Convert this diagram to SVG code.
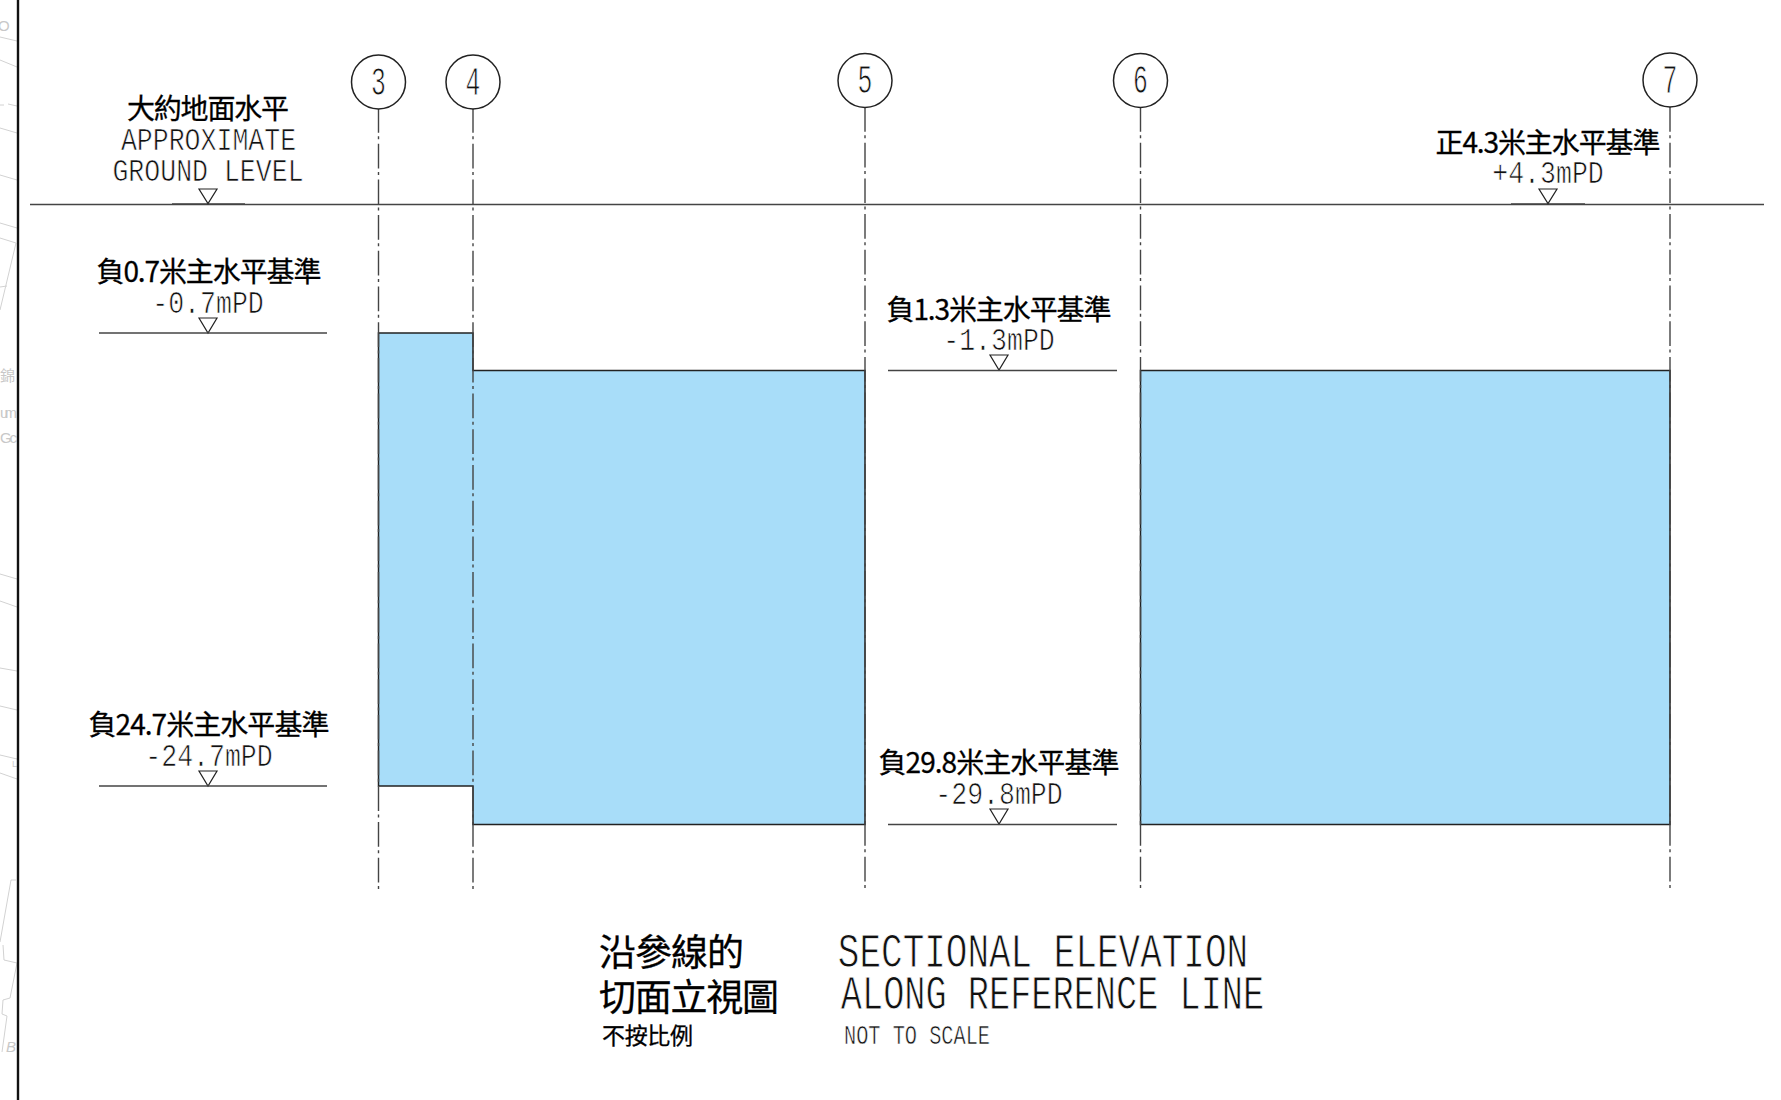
<svg xmlns="http://www.w3.org/2000/svg" width="1781" height="1100" viewBox="0 0 1781 1100">
<style>
.cjk{font-family:"Noto Sans CJK TC","Liberation Sans",sans-serif;fill:#000;stroke:#000;stroke-width:.3;text-anchor:middle}
.cad{font-family:"Liberation Mono",monospace;fill:#111;stroke:#fff;stroke-width:.7;text-anchor:middle;font-size:32px}
.num{font-family:"Liberation Mono",monospace;fill:#111;stroke:#fff;stroke-width:.9;text-anchor:middle;font-size:40px}
.lv{stroke:#444;stroke-width:1.6;fill:none}
.tri{fill:#fff;stroke:#222;stroke-width:1.2}
.cl{stroke:#444;stroke-width:1.4;fill:none;stroke-dasharray:24.7 3.5 3 4.5}
.bub{fill:#fff;stroke:#222;stroke-width:1.5}
.blue{fill:#a8ddf9;stroke:#222;stroke-width:1.5}
.map{stroke:#d2d2d2;stroke-width:1;fill:none}
.mt{font-family:"Liberation Sans",sans-serif;fill:#c8c8c8;font-size:15px}
</style>
<rect width="1781" height="1100" fill="#fff"/>
<g id="background-map">
<path class="map" d="M0 37L17 41M0 60L17 67M0 105L4 105M8 104L17 106M0 128L17 133M0 175L17 180M0 223L17 228M0 238L16 243L0 310M0 287L7 286M0 574L17 579M0 601L17 607M0 668L17 671M0 706L17 710M0 755L17 759M0 773L17 779M16 880L11 880L0 942M3 945L4 960L17 963L10 998L3 1000L2 1014L7 1016L2 1052"/>
<text class="mt" x="-2" y="31">O</text>
<text class="mt" x="0" y="381" style="font-family:'Noto Sans CJK TC',sans-serif">錦</text>
<text class="mt" x="0" y="418" textLength="17">um</text>
<text class="mt" x="0" y="443" textLength="17">Gc</text>
<text class="mt" x="6" y="1052" font-style="italic" font-size="12">B</text>
<text x="12" y="767" style="font-family:'Liberation Sans',sans-serif;fill:#ccc;font-size:9px">L</text>
</g>
<path d="M18 0V1100" stroke="#111" stroke-width="2.4"/>
<g id="sections">
<path class="blue" d="M378.5 333H473V370.5H865V824.5H473V786H378.5Z"/>
<path class="blue" d="M1140.5 370.5H1670V824.5H1140.5Z"/>
</g>
<g id="connectors">
<path class="cl" d="M378.5 108V891"/>
<path class="cl" d="M473 108V891"/>
<path class="cl" d="M865 107V889"/>
<path class="cl" d="M1140.5 107V889"/>
<path class="cl" d="M1670 107V889"/>
<path class="lv" d="M30 204.5H1764"/>
<path class="lv" d="M172 204H245M1511 204H1585"/>
</g>
<g id="grid-3"><circle class="bub" cx="378.5" cy="82" r="27"/><text class="num" transform="translate(378.5 94.5) scale(.62 1)">3</text></g>
<g id="grid-4"><circle class="bub" cx="473" cy="82" r="27"/><text class="num" transform="translate(473 94.5) scale(.62 1)">4</text></g>
<g id="grid-5"><circle class="bub" cx="865" cy="80.5" r="27"/><text class="num" transform="translate(865 93) scale(.62 1)">5</text></g>
<g id="grid-6"><circle class="bub" cx="1140.5" cy="80.5" r="27"/><text class="num" transform="translate(1140.5 93) scale(.62 1)">6</text></g>
<g id="grid-7"><circle class="bub" cx="1670" cy="80" r="27"/><text class="num" transform="translate(1670 92.5) scale(.62 1)">7</text></g>
<g id="level-ground">
<text class="cjk" x="208" y="119" font-size="28" textLength="162">大約地面水平</text>
<text class="cad" transform="translate(208.5 150) scale(.83 1)">APPROXIMATE</text>
<text class="cad" transform="translate(208 181) scale(.83 1)">GROUND LEVEL</text>
<path class="tri" d="M199 189H217L208 203.5Z"/>
</g>
<g id="level-minus-0-7">
<text class="cjk" x="209" y="282" font-size="28" textLength="225">負0.7米主水平基準</text>
<text class="cad" transform="translate(208 313) scale(.83 1)">-0.7mPD</text>
<path class="tri" d="M199 318H217L208 333Z"/>
<path class="lv" d="M99 333H327"/>
</g>
<g id="level-minus-24-7">
<text class="cjk" x="209" y="735" font-size="28" textLength="241">負24.7米主水平基準</text>
<text class="cad" transform="translate(209 766) scale(.83 1)">-24.7mPD</text>
<path class="tri" d="M199 771H217L208 786Z"/>
<path class="lv" d="M99 786H327"/>
</g>
<g id="level-minus-1-3">
<text class="cjk" x="999" y="320" font-size="28" textLength="225">負1.3米主水平基準</text>
<text class="cad" transform="translate(999 350) scale(.83 1)">-1.3mPD</text>
<path class="tri" d="M990 355H1008L999 370Z"/>
<path class="lv" d="M888 370.5H1117"/>
</g>
<g id="level-minus-29-8">
<text class="cjk" x="999" y="773" font-size="28" textLength="241">負29.8米主水平基準</text>
<text class="cad" transform="translate(999 804) scale(.83 1)">-29.8mPD</text>
<path class="tri" d="M990 809H1008L999 824Z"/>
<path class="lv" d="M888 824.5H1117"/>
</g>
<g id="level-plus-4-3">
<text class="cjk" x="1548" y="153" font-size="28" textLength="225">正4.3米主水平基準</text>
<text class="cad" transform="translate(1548 183) scale(.83 1)">+4.3mPD</text>
<path class="tri" d="M1539 189H1557L1548 203.5Z"/>
</g>
<g id="title">
<text class="cjk" x="671.5" y="966" font-size="37" textLength="145">沿參線的</text>
<text class="cjk" x="689" y="1011" font-size="37" textLength="180">切面立視圖</text>
<text class="cjk" x="647.5" y="1044" font-size="23" textLength="91">不按比例</text>
<text class="cad" style="font-size:48px;stroke-width:.9" transform="translate(1043 967) scale(.75 1)">SECTIONAL ELEVATION</text>
<text class="cad" style="font-size:48px;stroke-width:.9" transform="translate(1052.5 1009) scale(.735 1)">ALONG REFERENCE LINE</text>
<text class="cad" style="font-size:28px;stroke-width:.6" transform="translate(917 1044) scale(.725 1)">NOT TO SCALE</text>
</g>
</svg>
